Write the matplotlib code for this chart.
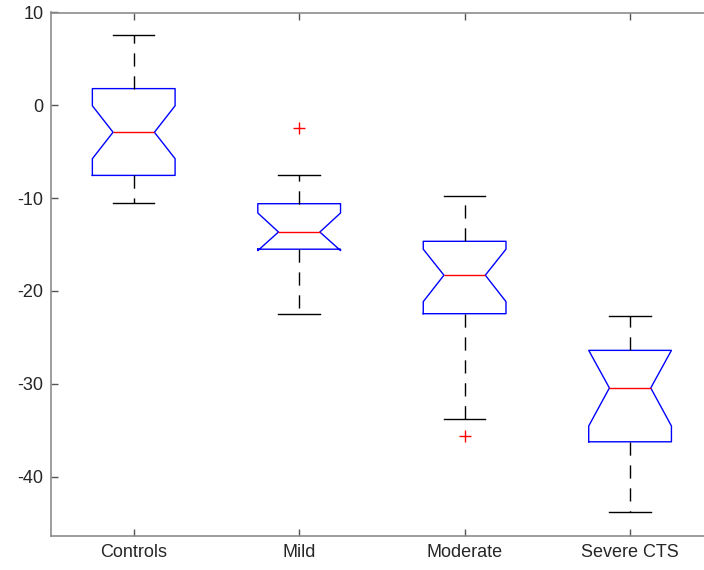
import matplotlib
matplotlib.use("Agg")
import matplotlib.pyplot as plt

# ========================
# data
# ========================
groups   = ["Controls", "Mild", "Moderate", "Severe CTS"]
med      = [-2.9, -13.65, -18.3, -30.45]
q1       = [-7.55, -15.5, -22.45, -36.25]
q3       = [1.8, -10.6, -14.65, -26.4]
whislo   = [-10.55, -22.45, -33.8, -43.8]
whishi   = [7.55, -7.55, -9.75, -22.7]
cilo     = [-5.75, -15.65, -21.15, -34.55]
cihi     = [-0.05, -11.6, -15.5, -26.4]
outliers = [[], [-2.4], [-35.65], []]

plt.rcParams["font.family"] = ["Liberation Sans", "DejaVu Sans"]
plt.rcParams["lines.scale_dashes"] = False
plt.rcParams["axes.unicode_minus"] = False

stats = []
for i, g in enumerate(groups):
    stats.append(dict(label=g, med=med[i], q1=q1[i], q3=q3[i],
                      whislo=whislo[i], whishi=whishi[i],
                      cilo=cilo[i], cihi=cihi[i], fliers=outliers[i]))

fig = plt.figure(figsize=(7.04, 5.70), dpi=100)
ax = fig.add_axes([51 / 704, 34 / 570, (712.8 - 51) / 704, (536 - 12.5) / 570])

lw = 1.0
ax.bxp(
    stats,
    positions=[1, 2, 3, 4],
    widths=0.5,
    shownotches=True,
    boxprops=dict(color="#0000ff", linewidth=lw),
    medianprops=dict(color="#ff0000", linewidth=lw),
    whiskerprops=dict(color="black", linewidth=lw, linestyle=(0, (9.5, 7))),
    capprops=dict(color="black", linewidth=lw),
    flierprops=dict(marker="+", markeredgecolor="#ff0000", markersize=9,
                    markeredgewidth=1.0, linestyle="none"),
)

ax.set_xlim(0.5, 4.5)
ax.set_ylim(-46.4, 10)
ax.set_yticks([10, 0, -10, -20, -30, -40])

for s in ax.spines.values():
    s.set_color("#8c8c8c")
    s.set_linewidth(1.2)
ax.tick_params(direction="in", length=5, width=1, colors="#555555",
               labelcolor="#262626", labelsize=13,
               top=True, right=True)
ax.tick_params(axis="y", pad=5.5)
ax.tick_params(axis="x", pad=6)

plt.savefig("out.png", dpi=100)
